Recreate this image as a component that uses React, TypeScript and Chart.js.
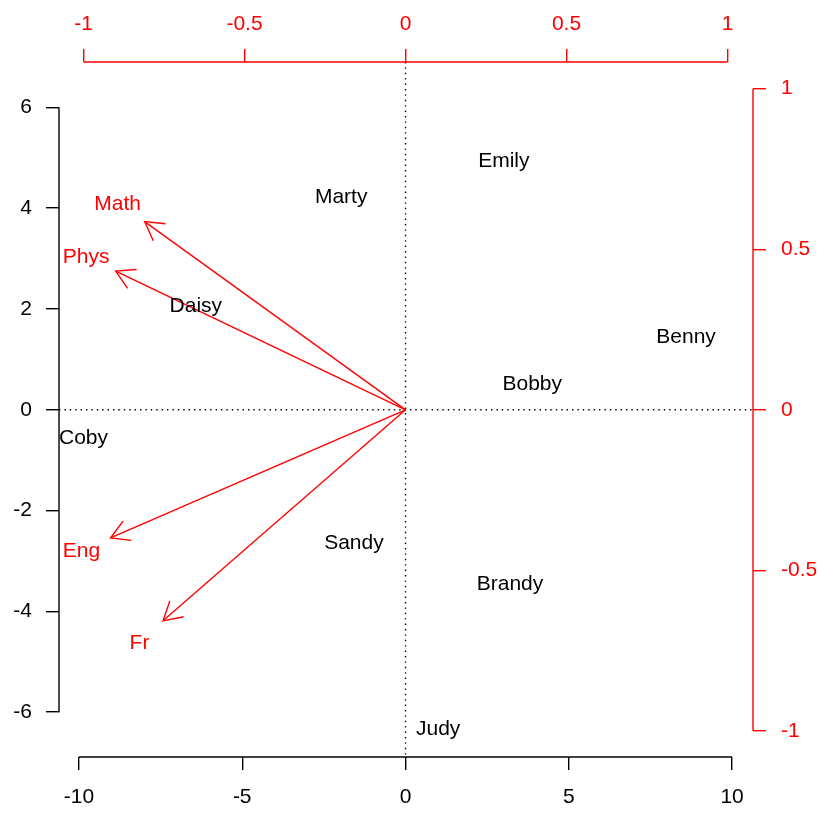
import React, { useEffect, useRef } from "react";
import { Chart, registerables } from "chart.js";

Chart.register(...registerables);

// Observations (scores, primary axes)
const students = ["Emily", "Marty", "Daisy", "Benny", "Bobby", "Coby", "Sandy", "Brandy", "Judy"];
const scoreX = [3.01, -1.97, -6.42, 8.59, 3.88, -9.86, -1.58, 3.2, 1.0];
const scoreY = [4.96, 4.25, 2.08, 1.47, 0.55, -0.54, -2.61, -3.42, -6.31];

// Variables (loadings, secondary axes)
const subjects = ["Math", "Phys", "Eng", "Fr"];
const labelX = [-0.894, -0.992, -1.006, -0.826];
const labelY = [0.647, 0.481, -0.436, -0.722];
const arrowX = [-0.81, -0.9, -0.916, -0.753];
const arrowY = [0.586, 0.432, -0.399, -0.657];

// Tick labels
const bottomTicks = [-10, -5, 0, 5, 10];
const leftTicks = [-6, -4, -2, 0, 2, 4, 6];
const topTicks = [-1, -0.5, 0, 0.5, 1];
const rightTicks = [-1, -0.5, 0, 0.5, 1];

const FAMILY = '"Liberation Sans", Arial, Helvetica, sans-serif';
const FONT_SIZE = 21;
const RED = "#FF0000";
const LW = 1.4;

const biplotPlugin = {
  id: "biplot",
  beforeDatasetsDraw(chart: any) {
    const { ctx, chartArea: a, scales } = chart;
    ctx.save();
    ctx.strokeStyle = "#000";
    ctx.lineWidth = LW;
    ctx.setLineDash([1.4, 4]);
    const y0 = scales.y.getPixelForValue(0);
    const x0 = scales.x.getPixelForValue(0);
    ctx.beginPath();
    ctx.moveTo(a.left, y0);
    ctx.lineTo(a.right, y0);
    ctx.moveTo(x0, a.top);
    ctx.lineTo(x0, a.bottom);
    ctx.stroke();
    ctx.restore();
  },
  afterDatasetsDraw(chart: any) {
    const { ctx, chartArea: a, scales } = chart;
    ctx.save();
    // axis lines spanning first to last tick
    ctx.lineWidth = LW;
    ctx.setLineDash([]);
    const drawH = (sc: any, ticks: number[], y: number, color: string) => {
      ctx.strokeStyle = color;
      ctx.beginPath();
      ctx.moveTo(sc.getPixelForValue(ticks[0]), y);
      ctx.lineTo(sc.getPixelForValue(ticks[ticks.length - 1]), y);
      ctx.stroke();
    };
    const drawV = (sc: any, ticks: number[], x: number, color: string) => {
      ctx.strokeStyle = color;
      ctx.beginPath();
      ctx.moveTo(x, sc.getPixelForValue(ticks[0]));
      ctx.lineTo(x, sc.getPixelForValue(ticks[ticks.length - 1]));
      ctx.stroke();
    };
    drawH(scales.x, bottomTicks, a.bottom, "#000");
    drawH(scales.x2, topTicks, a.top, RED);
    drawV(scales.y, leftTicks, a.left, "#000");
    drawV(scales.y2, rightTicks, a.right, RED);

    // arrowheads and text labels
    ctx.font = `${FONT_SIZE}px ${FAMILY}`;
    ctx.textAlign = "center";
    ctx.textBaseline = "alphabetic";
    const capHalf = FONT_SIZE * 0.716 / 2;
    chart.data.datasets.forEach((ds: any, i: number) => {
      const meta = chart.getDatasetMeta(i);
      if (ds.kind === "arrow") {
        const p0 = meta.data[0];
        const p1 = meta.data[1];
        const ang = Math.atan2(p0.y - p1.y, p0.x - p1.x);
        const len = 21;
        const spread = Math.PI / 6;
        ctx.strokeStyle = RED;
        ctx.lineWidth = LW;
        ctx.beginPath();
        ctx.moveTo(p1.x + len * Math.cos(ang + spread), p1.y + len * Math.sin(ang + spread));
        ctx.lineTo(p1.x, p1.y);
        ctx.lineTo(p1.x + len * Math.cos(ang - spread), p1.y + len * Math.sin(ang - spread));
        ctx.stroke();
      } else if (ds.kind === "text") {
        ctx.fillStyle = ds.textColor;
        meta.data.forEach((el: any, j: number) => {
          ctx.fillText(ds.labels[j], el.x, el.y + capHalf);
        });
      }
    });
    ctx.restore();
  },
};

function fixedTicks(values: number[]) {
  return (scale: any) => {
    scale.ticks = values.map((v) => ({ value: v }));
  };
}

export default function App() {
  const ref = useRef<HTMLCanvasElement | null>(null);

  useEffect(() => {
    if (!ref.current) return;
    const arrowSets = subjects.map((s, i) => ({
      kind: "arrow",
      label: s,
      data: [
        { x: 0, y: 0 },
        { x: arrowX[i], y: arrowY[i] },
      ],
      xAxisID: "x2",
      yAxisID: "y2",
      showLine: true,
      borderColor: RED,
      borderWidth: LW,
      pointRadius: 0,
      fill: false,
    }));
    const chart = new Chart(ref.current, {
      type: "scatter",
      data: {
        datasets: [
          ...arrowSets,
          {
            kind: "text",
            label: "students",
            labels: students,
            textColor: "#000",
            data: scoreX.map((x, i) => ({ x, y: scoreY[i] })),
            xAxisID: "x",
            yAxisID: "y",
            pointRadius: 0,
          },
          {
            kind: "text",
            label: "subjects",
            labels: subjects,
            textColor: RED,
            data: labelX.map((x, i) => ({ x, y: labelY[i] })),
            xAxisID: "x2",
            yAxisID: "y2",
            pointRadius: 0,
          },
        ] as any,
      },
      options: {
        animation: false,
        responsive: false,
        layout: { padding: 0, autoPadding: false } as any,
        plugins: {
          legend: { display: false },
          tooltip: { enabled: false },
        },
        scales: {
          x: {
            type: "linear",
            position: "bottom",
            min: -10.61,
            max: 10.64,
            afterBuildTicks: fixedTicks(bottomTicks),
            afterFit: (s: any) => {
              s.height = 56;
              s.paddingLeft = 0;
              s.paddingRight = 0;
            },
            grid: { drawOnChartArea: false, drawTicks: true, tickLength: 13, color: "#000", lineWidth: LW },
            border: { display: false },
            ticks: {
              autoSkip: false,
              maxRotation: 0,
              minRotation: 0,
              padding: 15,
              color: "#000",
              font: { family: FAMILY, size: FONT_SIZE },
              callback: (v: any) => String(v),
            },
          },
          y: {
            type: "linear",
            position: "left",
            min: -6.89,
            max: 6.9,
            afterBuildTicks: fixedTicks(leftTicks),
            afterFit: (s: any) => {
              s.width = 59;
              s.paddingTop = 0;
              s.paddingBottom = 0;
            },
            grid: { drawOnChartArea: false, drawTicks: true, tickLength: 13, color: "#000", lineWidth: LW },
            border: { display: false },
            ticks: {
              autoSkip: false,
              padding: 14,
              color: "#000",
              font: { family: FAMILY, size: FONT_SIZE },
              callback: (v: any) => String(v),
            },
          },
          x2: {
            type: "linear",
            position: "top",
            min: -1.076,
            max: 1.079,
            afterBuildTicks: fixedTicks(topTicks),
            afterFit: (s: any) => {
              s.height = 62;
              s.paddingLeft = 0;
              s.paddingRight = 0;
            },
            grid: { drawOnChartArea: false, drawTicks: true, tickLength: 13, color: RED, lineWidth: LW },
            border: { display: false },
            ticks: {
              autoSkip: false,
              maxRotation: 0,
              minRotation: 0,
              padding: 12,
              color: RED,
              font: { family: FAMILY, size: FONT_SIZE },
              callback: (v: any) => String(v),
            },
          },
          y2: {
            type: "linear",
            position: "right",
            min: -1.081,
            max: 1.083,
            afterBuildTicks: fixedTicks(rightTicks),
            afterFit: (s: any) => {
              s.width = 68;
              s.paddingTop = 0;
              s.paddingBottom = 0;
            },
            grid: { drawOnChartArea: false, drawTicks: true, tickLength: 13, color: RED, lineWidth: LW },
            border: { display: false },
            ticks: {
              autoSkip: false,
              padding: 15,
              color: RED,
              font: { family: FAMILY, size: FONT_SIZE },
              callback: (v: any) => String(v),
            },
          },
        },
      } as any,
      plugins: [biplotPlugin],
    });
    return () => chart.destroy();
  }, []);

  return (
    <div style={{ position: "absolute", left: 0, top: 0, width: 821, height: 813 }}>
      <canvas ref={ref} width={821} height={813} style={{ display: "block" }} />
    </div>
  );
}
